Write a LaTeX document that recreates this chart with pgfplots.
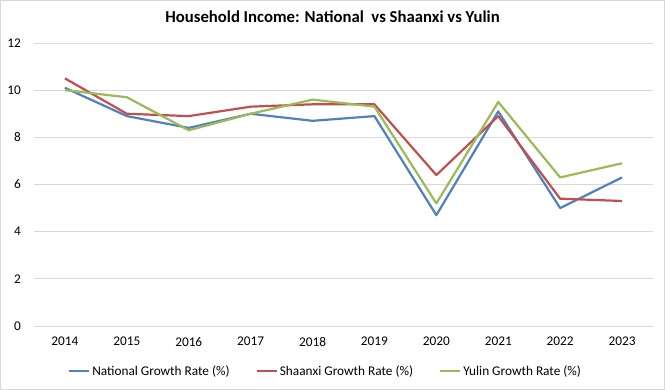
\documentclass[border=0pt]{standalone}
\usepackage{fontspec}
\setmainfont{Carlito}
\usepackage{pgfplots}
\pgfplotsset{compat=1.18}
\definecolor{natblue}{HTML}{4F81BD}
\definecolor{shred}{HTML}{C0504D}
\definecolor{yugreen}{HTML}{9BBB59}
\definecolor{gridgray}{HTML}{D9D9D9}
\begin{document}
\begin{tikzpicture}
\useasboundingbox (0bp,0bp) rectangle (665bp,390bp);
\draw[gridgray, line width=0.75bp] (0.5bp,0.5bp) rectangle (664.5bp,389.5bp);
\node[font=\fontsize{16.7bp}{20bp}\selectfont\bfseries] at (332.5bp,373bp) {Household Income: National\ \ vs Shaanxi vs Yulin};
\begin{axis}[
  at={(34bp,64bp)}, anchor=south west, scale only axis,
  width=619bp, height=283bp,
  xmin=-0.5, xmax=9.5, ymin=0, ymax=12,
  ytick={0,2,...,12},
  xtick={0,...,9},
  xticklabels={2014,2015,2016,2017,2018,2019,2020,2021,2022,2023},
  /pgf/number format/assume math mode=true,
  ticklabel style={font=\fontsize{13.3bp}{16bp}\selectfont},
  yticklabel style={xshift=-9.6bp},
  xticklabel style={yshift=-7.6bp},
  tick style={draw=none},
  axis line style={draw=none},
  ymajorgrids, grid style={gridgray, line width=0.75bp},
  legend columns=3,
  legend style={draw=none, fill=none, at={(0.471,-0.159)}, anchor=center,
    font=\fontsize{13.3bp}{16bp}\selectfont,
    /tikz/every even column/.append style={column sep=24bp}},
  legend cell align=left,
  legend image code/.code={\draw[#1] (0bp,0bp) -- (20bp,0bp);},
  every axis plot/.append style={line width=2.2bp, no marks, line join=round},
]
\addplot[natblue] coordinates {(0,10.1) (1,8.9) (2,8.4) (3,9.0) (4,8.7) (5,8.9) (6,4.7) (7,9.1) (8,5.0) (9,6.3)};
\addlegendentry{National Growth Rate (\%)}
\addplot[shred] coordinates {(0,10.5) (1,9.0) (2,8.9) (3,9.3) (4,9.4) (5,9.4) (6,6.4) (7,8.9) (8,5.4) (9,5.3)};
\addlegendentry{Shaanxi Growth Rate (\%)}
\addplot[yugreen] coordinates {(0,10.0) (1,9.7) (2,8.3) (3,9.0) (4,9.6) (5,9.3) (6,5.2) (7,9.5) (8,6.3) (9,6.9)};
\addlegendentry{Yulin Growth Rate (\%)}
\end{axis}
\end{tikzpicture}
\end{document}
